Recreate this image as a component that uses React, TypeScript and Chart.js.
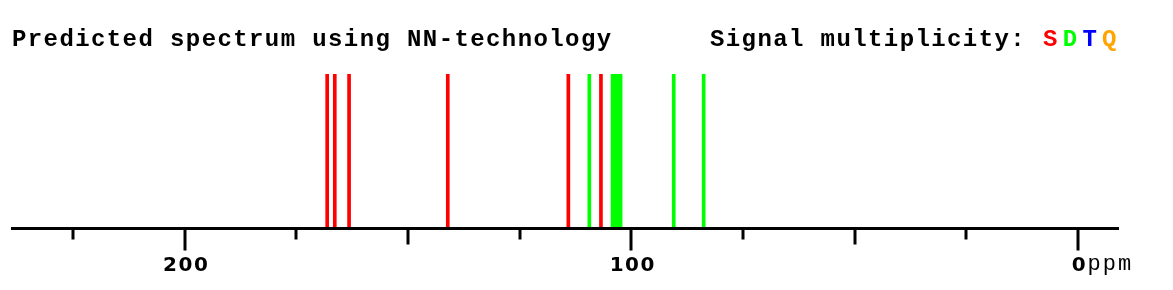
import React, { useEffect, useRef } from "react";
import { Chart, registerables } from "chart.js";

Chart.register(...registerables);

// Peak positions (ppm)
const singletPeaks = [168.1, 166.4, 163.2, 141.1, 114.1, 106.8];
const doubletPeaks = [109.4, 104.2, 103.6, 103.0, 102.4, 90.5, 83.8];
const tripletPeaks: number[] = [];
const quartetPeaks: number[] = [];

const majorTicks = [200, 100, 0];
const midTicks = [150, 50];
const minorTicks = [225, 175, 125, 75, 25];
const tickLabels = ["200", "100", "0"];

const axisMin = -9.2;
const axisMax = 238.9;

const titleText = "Predicted spectrum using NN-technology";
const legendText = "Signal multiplicity:";
const legendLetters = ["S", "D", "T", "Q"];
const legendColors = ["#ff0000", "#00ff00", "#0000ff", "#ffa500"];
const unitText = "ppm";

export default function App() {
  const ref = useRef<HTMLCanvasElement>(null);
  useEffect(() => {
    document.body.style.margin = "0";
    const canvas = ref.current!;
    const toData = (arr: number[]) => arr.map((p) => ({ x: p, y: 1 }));

    const overlay = {
      id: "overlay",
      afterDatasetsDraw(chart: any) {
        const ctx = chart.ctx as CanvasRenderingContext2D;
        const xs = chart.scales.x;
        const area = chart.chartArea;
        const axisY = area.bottom + 0.5;
        ctx.save();
        // axis line
        ctx.strokeStyle = "#000";
        ctx.lineWidth = 3;
        ctx.beginPath();
        ctx.moveTo(area.left, axisY);
        ctx.lineTo(area.right, axisY);
        ctx.stroke();
        // ticks
        const drawTick = (v: number, len: number) => {
          const px = Math.round(xs.getPixelForValue(v));
          ctx.beginPath();
          ctx.moveTo(px, axisY);
          ctx.lineTo(px, axisY + len);
          ctx.stroke();
        };
        majorTicks.forEach((v) => drawTick(v, 22));
        midTicks.forEach((v) => drawTick(v, 16));
        minorTicks.forEach((v) => drawTick(v, 11));
        // tick labels
        ctx.fillStyle = "#000";
        ctx.textBaseline = "alphabetic";
        ctx.font = "bold 20px 'DejaVu Sans'";
        (ctx as any).letterSpacing = "1.5px";
        ctx.textAlign = "center";
        majorTicks.forEach((v, i) => {
          const px = xs.getPixelForValue(v);
          ctx.fillText(tickLabels[i], px + 1.5, 271);
        });
        // unit
        const zeroPx = xs.getPixelForValue(0);
        const zw = ctx.measureText(tickLabels[2]).width;
        ctx.textAlign = "left";
        (ctx as any).letterSpacing = "2px";
        ctx.font = "22px 'Liberation Mono'";
        ctx.fillText(unitText, zeroPx + 1 + zw / 2 + 1, 270);
        // title
        ctx.font = "bold 24px 'Liberation Mono'";
        (ctx as any).letterSpacing = "1.4px";
        ctx.fillText(titleText, 12, 46);
        ctx.fillText(legendText, 710, 46);
        let x = 1043;
        legendLetters.forEach((l, i) => {
          ctx.fillStyle = legendColors[i];
          ctx.fillText(l, x, 46);
          x += 19.7;
        });
        ctx.restore();
      },
    };

    const chart = new Chart(canvas, {
      type: "bar",
      data: {
        datasets: [
          { label: "S", data: toData(singletPeaks), backgroundColor: "#ff0000", barThickness: 3, grouped: false },
          { label: "D", data: toData(doubletPeaks), backgroundColor: "#00ff00", barThickness: 3, grouped: false },
          { label: "T", data: toData(tripletPeaks), backgroundColor: "#0000ff", barThickness: 3, grouped: false },
          { label: "Q", data: toData(quartetPeaks), backgroundColor: "#ffa500", barThickness: 3, grouped: false },
        ],
      },
      options: {
        animation: false,
        responsive: false,
        maintainAspectRatio: false,
        layout: { padding: { left: 11, right: 54, top: 74, bottom: 62 } },
        plugins: { legend: { display: false }, tooltip: { enabled: false } },
        scales: {
          x: { type: "linear", reverse: true, min: axisMin, max: axisMax, display: false, offset: false },
          y: { min: 0, max: 1, display: false },
        },
      },
      plugins: [overlay],
    });
    return () => chart.destroy();
  }, []);
  return (
    <div style={{ width: 1173, height: 290 }}>
      <canvas ref={ref} width={1173} height={290} />
    </div>
  );
}
